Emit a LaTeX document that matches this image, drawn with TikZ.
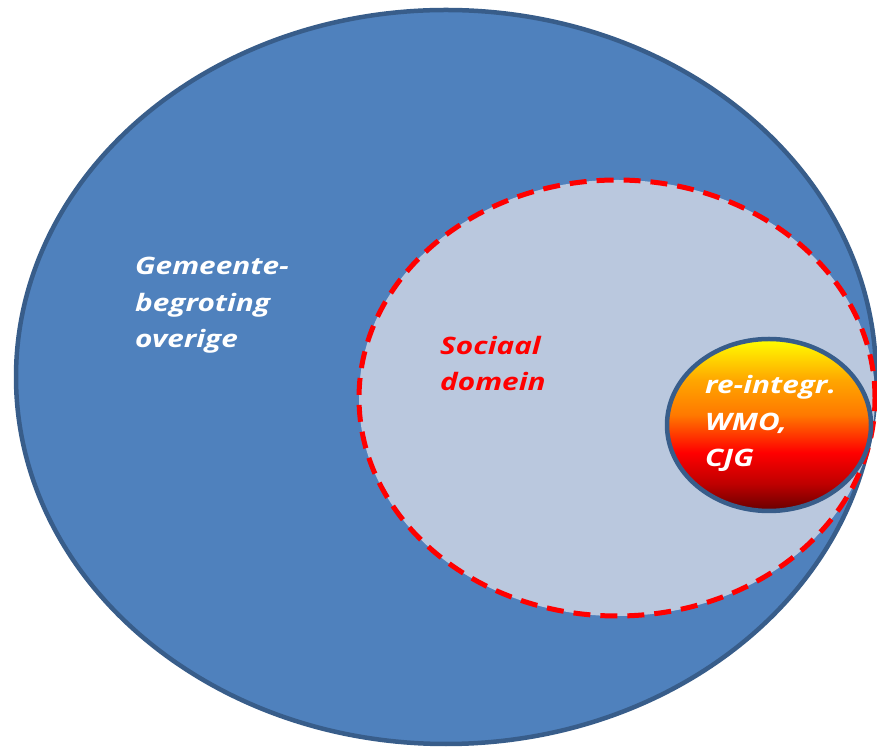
\documentclass[tikz,border=0pt]{standalone}
\usepackage{fontspec}
\usetikzlibrary{shapes.geometric}
\newfontfamily\labelfont{Open Sans}[FakeStretch=1.24]
\definecolor{budgetblue}{HTML}{4F81BD}
\definecolor{budgetedge}{HTML}{385D8A}
\definecolor{socialfill}{HTML}{BAC8DE}
\pgfdeclareverticalshading{fireshade}{100bp}{color(0bp)=(red!40!black); color(25bp)=(red!40!black); color(33bp)=(red!75!black); color(42bp)=(red); color(53bp)=(orange!95!red); color(63bp)=(orange!70!yellow); color(75bp)=(yellow); color(100bp)=(yellow)}
\tikzset{
  blob/.style={ellipse, inner sep=0pt, minimum width=#1},
  outerblob/.style={blob=860pt, minimum height=734pt, fill=budgetblue, draw=budgetedge, line width=4.5pt},
  socialblob/.style={blob=516pt, minimum height=436pt, fill=socialfill, draw=red, line width=5pt, dash pattern=on 17pt off 10pt},
  fireblob/.style={blob=204pt, minimum height=172pt, shading=fireshade, draw=budgetedge, line width=4.5pt},
  lbl/.style={anchor=base west, align=left, inner sep=0pt, font=\labelfont\bfseries\itshape\fontsize{24}{36.5}\selectfont}
}
\begin{document}
\begin{tikzpicture}[x=1pt, y=1pt]
	\useasboundingbox (0,0) rectangle (877,746);
	\node[outerblob] (budget) at (446,369) {};
	\node[socialblob] (social) at (617,348) {};
	\node[fireblob] (reint) at (769,321) {};
	% base anchor sits on the last line
	\node[lbl, text=white] (budgettext) at (135,398) {Gemeente-\\begroting\\overige};
	\node[lbl, text=red] (socialtext) at (440,355) {Sociaal\\domein};
	\node[lbl, text=white] (reinttext) at (705,279) {re-integr.\\WMO,\\CJG};
\end{tikzpicture}
\end{document}
